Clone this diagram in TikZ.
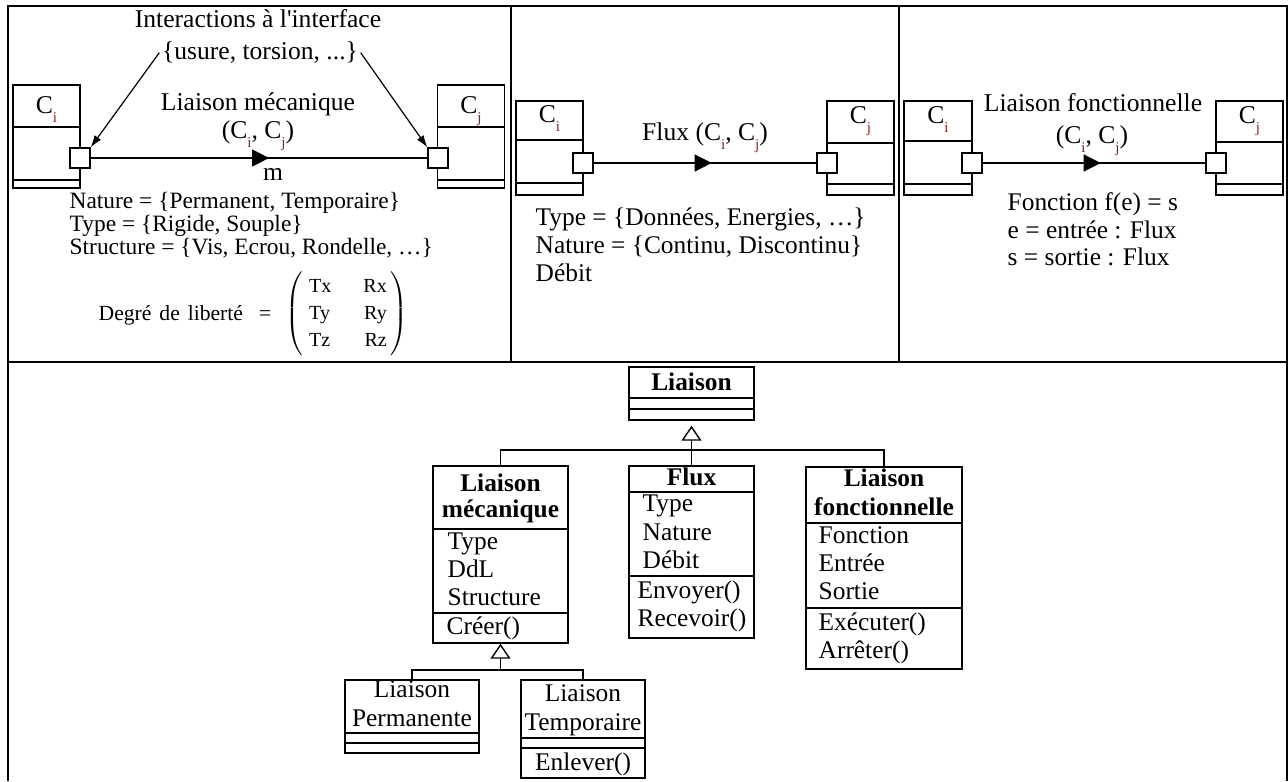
\documentclass[tikz,border=0pt]{standalone}
\usepackage{fontspec}
\setmainfont{Liberation Serif}[Ligatures=TeXOff]
\usetikzlibrary{arrows.meta,decorations.markings}
\definecolor{subred}{RGB}{140,30,30}
\newcommand{\csub}[1]{\raisebox{-4.5pt}{\fontsize{7.5}{8}\selectfont\color{subred}#1}}

\begin{document}
\begin{tikzpicture}[x=0.5pt,y=-0.5pt,line width=0.7pt,
        frame/.style={line width=1.2pt},
        comp/.style={draw,minimum width=33.5pt,minimum height=47pt,inner sep=0pt},
        port/.style={draw,fill=white,minimum size=10pt,inner sep=0pt},
        txt/.style={font=\fontsize{12.8}{15}\selectfont,inner sep=1pt,anchor=mid},
        lmattr/.style={font=\fontsize{11.7}{13}\selectfont,inner sep=0pt,anchor=mid west},
        attr/.style={font=\fontsize{12.7}{14}\selectfont,inner sep=0pt,anchor=mid west},
        umlbox/.style={draw,inner sep=0pt},
        umlhead/.style={font=\fontsize{12.7}{14}\selectfont\bfseries,inner sep=0pt,anchor=mid},
        umltxt/.style={font=\fontsize{12.7}{14}\selectfont,inner sep=0pt,anchor=mid},
        umlattr/.style={font=\fontsize{12.7}{14}\selectfont,inner sep=0pt,anchor=mid west},
        link/.style={draw,postaction={decorate},
            decoration={markings,mark=at position .53 with {\arrow{Triangle[length=8.5pt,width=8.5pt]}}}},
        interact/.style={draw,line width=0.6pt,-{Latex[length=6pt,width=4pt]}},
        inherit/.style={draw,-{Triangle[open,length=7.5pt,width=10pt,fill=white]}}]

    \useasboundingbox (0,0) rectangle (1288,781);

    \draw[frame] (8,781) -- (8,6) -- (1287,6) -- (1287,781);
    \draw[frame] (8,362) -- (1287,362);
    \draw[frame] (511,6) -- (511,362);
    \draw[frame] (899,6) -- (899,362);

    % liaison mecanique
    \node[comp,minimum height=51.5pt] (ci1) at (46.5,136.5) {};
    \node[comp,minimum height=51.5pt] (cj1) at (471,136.5) {};
    \draw (13,127) -- (80,127) (13,180) -- (80,180);
    \draw (437,127) -- (505,127) (437,180) -- (505,180);
    \node[txt] (ci1t) at (46.5,109) {C\csub{i}};
    \node[txt] (cj1t) at (471,109) {C\csub{j}};
    \node[port] (pi1) at (80,158) {};
    \node[port] (pj1) at (438,158) {};
    \node[txt] (int1) at (258,23) {Interactions à l'interface};
    \node[txt] (int2) at (260,55) {\{usure, torsion, ...\}};
    \node[txt] (lm1) at (258,106) {Liaison mécanique};
    \node[txt] (lm2) at (258,134) {(C\csub{i}, C\csub{j})};
    \node[txt] (lmm) at (273,176) {m};
    \node[lmattr] (nat1) at (69,204) {Nature = \{Permanent, Temporaire\}};
    \node[lmattr] (typ1) at (69,227) {Type = \{Rigide, Souple\}};
    \node[lmattr] (str1) at (69,250) {Structure = \{Vis, Ecrou, Rondelle, …\}};
    \node[lmattr,font=\fontsize{10.8}{13}\selectfont] (ddl1) at (98,316)
        {Degré\hspace{4pt}de\hspace{4pt}liberté\hspace{8pt}=};
    \node[font=\fontsize{10}{13.5}\selectfont,inner sep=0pt] (mat1) at (347,314)
        {$\left(\begin{array}{@{\hspace{3pt}}l@{\hspace{16pt}}r@{\hspace{2pt}}}
        \mbox{Tx}&\mbox{Rx}\\ \mbox{Ty}&\mbox{Ry}\\ \mbox{Tz}&\mbox{Rz}\end{array}\right)$};

    \path (pi1) edge[link] (pj1)
        (int2.west) edge[interact] (pi1.north east)
        (int2.east) edge[interact] (pj1.north west);

    % flux
    \node[comp] (ci2) at (549.5,148) {};
    \node[comp] (cj2) at (860.5,148) {};
    \draw (516,140) -- (583,140) (516,183) -- (583,183);
    \draw (827,143) -- (894,143) (827,184) -- (894,184);
    \node[txt] (ci2t) at (549.5,118) {C\csub{i}};
    \node[txt] (cj2t) at (860.5,119) {C\csub{j}};
    \node[port] (pi2) at (583,163) {};
    \node[port] (pj2) at (827,163) {};
    \node[txt] (fl) at (705,136) {Flux (C\csub{i}, C\csub{j})};
    \node[attr] (typ2) at (535,221) {Type = \{Données, Energies, …\}};
    \node[attr] (nat2) at (535,249) {Nature = \{Continu, Discontinu\}};
    \node[attr] (deb2) at (535,277) {Débit};
    \path (pi2) edge[link] (pj2);

    % liaison fonctionnelle
    \node[comp,minimum width=34pt] (ci3) at (938,148) {};
    \node[comp] (cj3) at (1249.5,148) {};
    \draw (904,141) -- (972,141) (904,184) -- (972,184);
    \draw (1216,142) -- (1283,142) (1216,184) -- (1283,184);
    \node[txt] (ci3t) at (938,119) {C\csub{i}};
    \node[txt] (cj3t) at (1249.5,119) {C\csub{j}};
    \node[port] (pi3) at (972,163) {};
    \node[port] (pj3) at (1216,163) {};
    \node[txt] (lf1) at (1093,107) {Liaison fonctionnelle};
    \node[txt] (lf2) at (1092,139) {(C\csub{i}, C\csub{j})};
    \node[attr] (fon3) at (1007,206) {Fonction f(e) = s};
    \node[attr] (ent3) at (1007,234) {e = entrée : Flux};
    \node[attr] (sor3) at (1007,261) {s = sortie : Flux};
    \path (pi3) edge[link] (pj3);

    % classes
    \node[umlbox,minimum width=62.5pt,minimum height=26.5pt] (liaison) at (691.5,393.5) {};
    \draw (629,398) -- (754,398) (629,409) -- (754,409);
    \node[umlhead] (liaison-t) at (691.5,386) {Liaison};

    \node[umlbox,minimum width=67.5pt,minimum height=88.5pt] (meca) at (500.5,554.5) {};
    \draw (433,529) -- (568,529) (433,613) -- (568,613);
    \node[umlhead] (meca-t1) at (500.5,487) {Liaison};
    \node[umlhead] (meca-t2) at (500.5,513) {mécanique};
    \foreach \t/\y [count=\i] in {Type/545,DdL/573,Structure/601}
        \node[umlattr] (meca-a\i) at (447,\y) {\t};
    \node[umlattr] (meca-o1) at (446,630) {Créer()};

    \node[umlbox,minimum width=62.5pt,minimum height=86pt] (flux) at (691.5,552) {};
    \draw (629,492) -- (754,492) (629,576) -- (754,576);
    \node[umlhead] (flux-t) at (691.5,481) {Flux};
    \foreach \t/\y [count=\i] in {Type/507,Nature/536,Débit/564}
        \node[umlattr] (flux-a\i) at (642,\y) {\t};
    \foreach \t/\y [count=\i] in {Envoyer()/594,Recevoir()/622}
        \node[umlattr] (flux-o\i) at (637,\y) {\t};

    \node[umlbox,minimum width=78pt,minimum height=101pt] (fonct) at (884,568) {};
    \draw (806,523) -- (962,523) (806,608) -- (962,608);
    \node[umlhead] (fonct-t1) at (884,482) {Liaison};
    \node[umlhead] (fonct-t2) at (884,511) {fonctionnelle};
    \foreach \t/\y [count=\i] in {Fonction/539,Entrée/567,Sortie/595,Exécuter()/626,Arrêter()/654}
        \node[umlattr] (fonct-a\i) at (818,\y) {\t};

    \node[umlbox,minimum width=67pt,minimum height=36.5pt] (perm) at (412,716.5) {};
    \draw (345,733) -- (479,733) (345,743) -- (479,743);
    \node[umltxt] (perm-t1) at (412,693) {Liaison};
    \node[umltxt] (perm-t2) at (412,722) {Permanente};

    \node[umlbox,minimum width=62pt,minimum height=49pt] (temp) at (583,729) {};
    \draw (521,738) -- (645,738) (521,748) -- (645,748);
    \node[umltxt] (temp-t1) at (583,697) {Liaison};
    \node[umltxt] (temp-t2) at (583,726) {Temporaire};
    \node[umltxt] (temp-o1) at (583,766) {Enlever()};

    \coordinate (top-join) at (691.5,450);
    \coordinate (meca-join) at (500.5,670);
    \draw (meca.north) |- (top-join) -| (fonct.north);
    \draw (perm.north) |- (meca-join) -| (temp.north);
    \path (flux.north) edge[inherit,shorten >=2.5pt] (liaison.south)
        (meca-join) edge[inherit] (meca.south);
\end{tikzpicture}
\end{document}
